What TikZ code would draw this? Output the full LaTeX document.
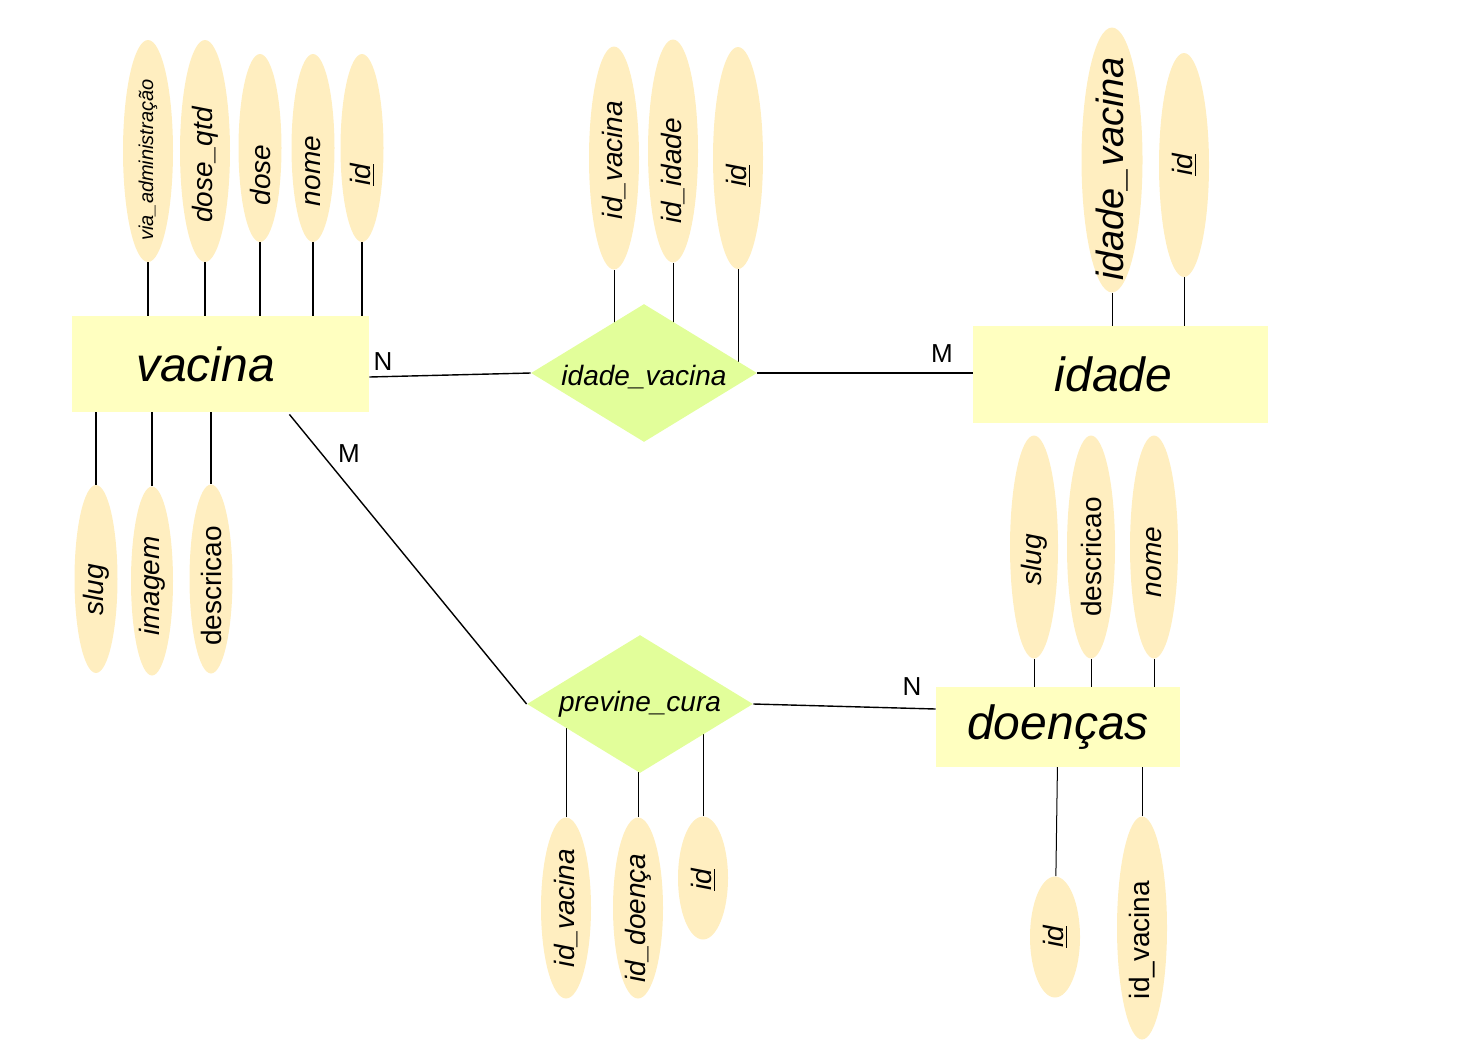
\documentclass[tikz,border=0pt]{standalone}
\usepackage{fontspec}
\setmainfont{Liberation Sans}
\usetikzlibrary{shapes.geometric,backgrounds,calc}
\definecolor{entc}{HTML}{FFFFC0}
\definecolor{attc}{HTML}{FFEEC0}
\definecolor{relc}{HTML}{E2FE9A}
% #1: shift of the text towards the bottom of the ellipse (negative length, in pt = px)
\newcommand{\atx}[2][0pt]{\makebox[0pt]{\hspace*{#1}#2}}
\begin{document}
\begin{tikzpicture}[x=0.5pt,y=-0.5pt,
  attr/.style={ellipse,fill=attc,inner sep=0pt,rotate=90,font=\itshape\fontsize{14}{14}\selectfont},
  ent/.style={rectangle,fill=entc,inner sep=0pt,font=\itshape\fontsize{24}{24}\selectfont},
  rel/.style={diamond,fill=relc,inner sep=0pt,aspect=1.64,minimum width=113pt,minimum height=69pt,font=\itshape\fontsize{14}{14}\selectfont},
  card/.style={font=\fontsize{13}{13}\selectfont,inner sep=0pt},
  thinl/.style={line width=0.5pt},
  thickl/.style={line width=1pt},
  conn/.style={line width=0.7pt}]
\useasboundingbox (0,0) rectangle (1476,1044);

% entities
\node[ent,minimum width=148.5pt,minimum height=48pt] (vacina) at (220.5,364) {\hspace*{-15pt}vacina};
\node[ent,minimum width=147.5pt,minimum height=48.5pt] (idade) at (1120.5,374.5) {\hspace*{-7pt}idade};
\node[ent,minimum width=122pt,minimum height=40pt] (doencas) at (1058,727) {doenças};

% relationships
\node[rel,text height=15pt,text depth=3pt] (ivr) at (644,373) {idade\_vacina};
\node[rel] (pcr) at (640,704) {previne\_cura};

% vacina attributes
\node[attr,minimum width=111pt,minimum height=25pt,font=\itshape\fontsize{10}{10}\selectfont] (va) at (148,151) {\atx[-9pt]{via\_administração}};
\node[attr,minimum width=111pt,minimum height=25pt] (dq) at (205,151) {\atx[-14pt]{dose\_qtd}};
\node[attr,minimum width=94pt,minimum height=21.5pt] (vdose) at (260,148) {\atx[-27pt]{dose}};
\node[attr,minimum width=94pt,minimum height=21.5pt] (vnome) at (313,148) {\atx[-23pt]{nome}};
\node[attr,minimum width=94pt,minimum height=21.5pt] (vid) at (362,148) {\atx[-27pt]{\underline{id}}};
\node[attr,minimum width=94pt,minimum height=21.5pt] (vslug) at (96,579) {\atx[-11pt]{slug}};
\node[attr,minimum width=94.5pt,minimum height=21pt] (vimg) at (152,581) {\atx[-5pt]{imagem}};
\node[attr,minimum width=94.5pt,minimum height=21.5pt,font=\fontsize{14}{14}\selectfont] (vdesc) at (211,579) {\atx[-7pt]{descricao}};

% idade_vacina attributes
\node[attr,minimum width=111.5pt,minimum height=25pt] (iva) at (614,158) {\atx[-2pt]{id\_vacina}};
\node[attr,minimum width=111.5pt,minimum height=25pt] (ivb) at (673,151) {\atx[-20pt]{id\_idade}};
\node[attr,minimum width=111pt,minimum height=25pt] (ivc) at (738,158) {\atx[-18pt]{\underline{id}}};

% idade attributes
\node[attr,minimum width=132.5pt,minimum height=30.5pt,font=\itshape\fontsize{19}{19}\selectfont] (ia) at (1112,160) {\atx[-9pt]{idade\_vacina}};
\node[attr,minimum width=112pt,minimum height=25pt] (ib) at (1184,165) {\atx{\underline{id}}};

% previne_cura attributes
\node[attr,minimum width=90.5pt,minimum height=25pt] (pa) at (566,908) {\atx{id\_vacina}};
\node[attr,minimum width=90.5pt,minimum height=25pt] (pb) at (638,908) {\atx[-10pt]{id\_doença}};
\node[attr,minimum width=61.5pt,minimum height=25pt] (pc) at (703,878) {\atx[-2pt]{\underline{id}}};

% doencas attributes
\node[attr,minimum width=111.5pt,minimum height=24pt] (da) at (1034,547) {\atx[-13pt]{slug}};
\node[attr,minimum width=111.5pt,minimum height=24pt,font=\fontsize{14}{14}\selectfont] (db) at (1091,547) {\atx[-10pt]{descricao}};
\node[attr,minimum width=111.5pt,minimum height=24pt] (dc) at (1154,547) {\atx[-15pt]{nome}};
\node[attr,minimum width=60.5pt,minimum height=25pt] (dd) at (1055,937) {\atx{\underline{id}}};
\node[attr,minimum width=111.5pt,minimum height=25pt,font=\fontsize{14}{14}\selectfont] (de) at (1142,928) {\atx[-12pt]{id\_vacina}};

% attribute links (behind the shapes)
\begin{pgfonlayer}{background}
  \foreach \a in {va,dq,vdose,vnome,vid,vslug,vimg,vdesc}
    \draw[thickl] (\a) -- (\a |- vacina.center);
  \foreach \a in {iva,ivb,ivc}
    \draw[thinl] (\a) -- (\a |- ivr.center);
  \foreach \a in {ia,ib}
    \draw[thinl] (\a) -- (\a |- idade.center);
  \foreach \a in {pa,pb,pc}
    \draw[thinl] (\a) -- (\a |- pcr.center);
  \foreach \a in {da,db,dc,de}
    \draw[thinl] (\a) -- (\a |- doencas.center);
  \draw[thinl] (dd) -- (doencas.center);
\end{pgfonlayer}

% relationship connectors
\draw[conn] ($(vacina.east)+(0,13)$) -- (ivr.west);
\draw[conn] (ivr.east) -- (ivr.east -| idade.west);
\draw[conn] ($(vacina.south east)+(-80,2)$) -- (pcr.west);
\draw[conn] (pcr.east) -- ($(doencas.west)+(0,-18)$);

% cardinalities
\node[card] (c1) at (383,362) {N};
\node[card] (c2) at (942,354) {M};
\node[card] (c3) at (349,454) {M};
\node[card] (c4) at (912,687) {N};
\end{tikzpicture}
\end{document}
